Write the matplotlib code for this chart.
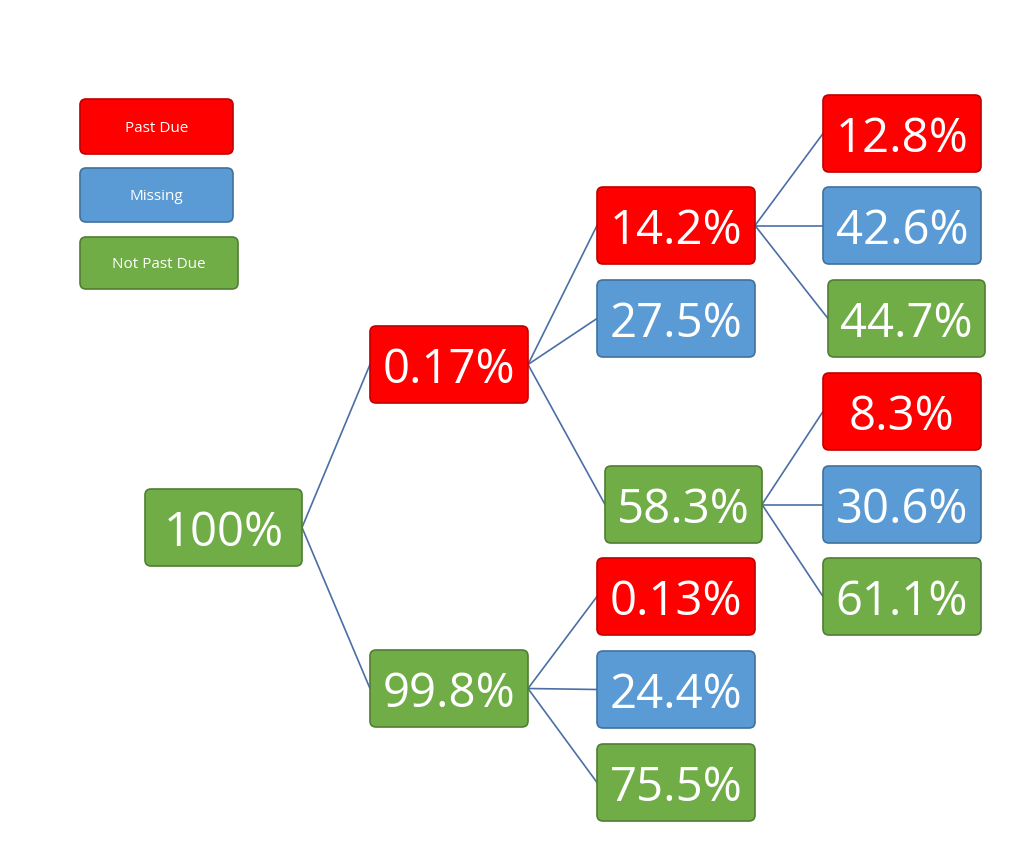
import matplotlib.pyplot as plt
from matplotlib.patches import FancyBboxPatch

RED, BLUE, GREEN = "#FF0000", "#5B9BD5", "#70AD47"
EDGE = {RED: "#C00000", BLUE: "#41719C", GREEN: "#507E32"}

# node data
labels = ["100%", "0.17%", "99.8%", "14.2%", "27.5%", "58.3%", "0.13%", "24.4%",
          "75.5%", "12.8%", "42.6%", "44.7%", "8.3%", "30.6%", "61.1%"]
kinds = ["g", "r", "g", "r", "b", "g", "r", "b", "g", "r", "b", "g", "r", "b", "g"]
parents = [None, 0, 0, 1, 1, 1, 2, 2, 2, 3, 3, 3, 5, 5, 5]

legend_labels = ["Past Due", "Missing", "Not Past Due"]
legend_kinds = ["r", "b", "g"]

# layout in pixels: (x0, y0, x1, y1)
boxes = [(145, 489, 302, 566), (370, 326, 528, 403), (370, 650, 528, 727),
         (597, 187, 755, 264), (597, 280, 755, 357), (605, 466, 762, 543),
         (597, 558, 755, 635), (597, 651, 755, 728), (597, 744, 755, 821),
         (823, 95, 981, 172), (823, 187, 981, 264), (828, 280, 985, 357),
         (823, 373, 981, 450), (823, 466, 981, 543), (823, 558, 981, 635)]
legend_boxes = [(80, 99, 233, 154), (80, 168, 233, 222), (80, 237, 238, 289)]
colors = {"r": RED, "b": BLUE, "g": GREEN}

fig = plt.figure(figsize=(10.18, 8.66), dpi=100)
ax = fig.add_axes([0, 0, 1, 1])
ax.set_xlim(0, 1018)
ax.set_ylim(866, 0)
ax.axis("off")


def draw_box(b, c, text, size):
    x0, y0, x1, y1 = b
    ax.add_patch(FancyBboxPatch((x0, y0), x1 - x0, y1 - y0,
                                boxstyle="round,pad=0,rounding_size=6",
                                fc=c, ec=EDGE[c], lw=1.2, zorder=3))
    ax.text((x0 + x1) / 2, (y0 + y1) / 2, text, color="white", fontsize=size,
            ha="center", va="center_baseline", family="Open Sans", zorder=4)


for i, p in enumerate(parents):
    if p is None:
        continue
    pb, cb = boxes[p], boxes[i]
    ax.plot([pb[2], cb[0]], [(pb[1] + pb[3]) / 2, (cb[1] + cb[3]) / 2],
            color="#4A6FA5", lw=1.2, zorder=2)

for b, k, t in zip(boxes, kinds, labels):
    draw_box(b, colors[k], t, 34)

for b, k, t in zip(legend_boxes, legend_kinds, legend_labels):
    draw_box(b, colors[k], t, 11)

fig.savefig("out.png", dpi=100)
